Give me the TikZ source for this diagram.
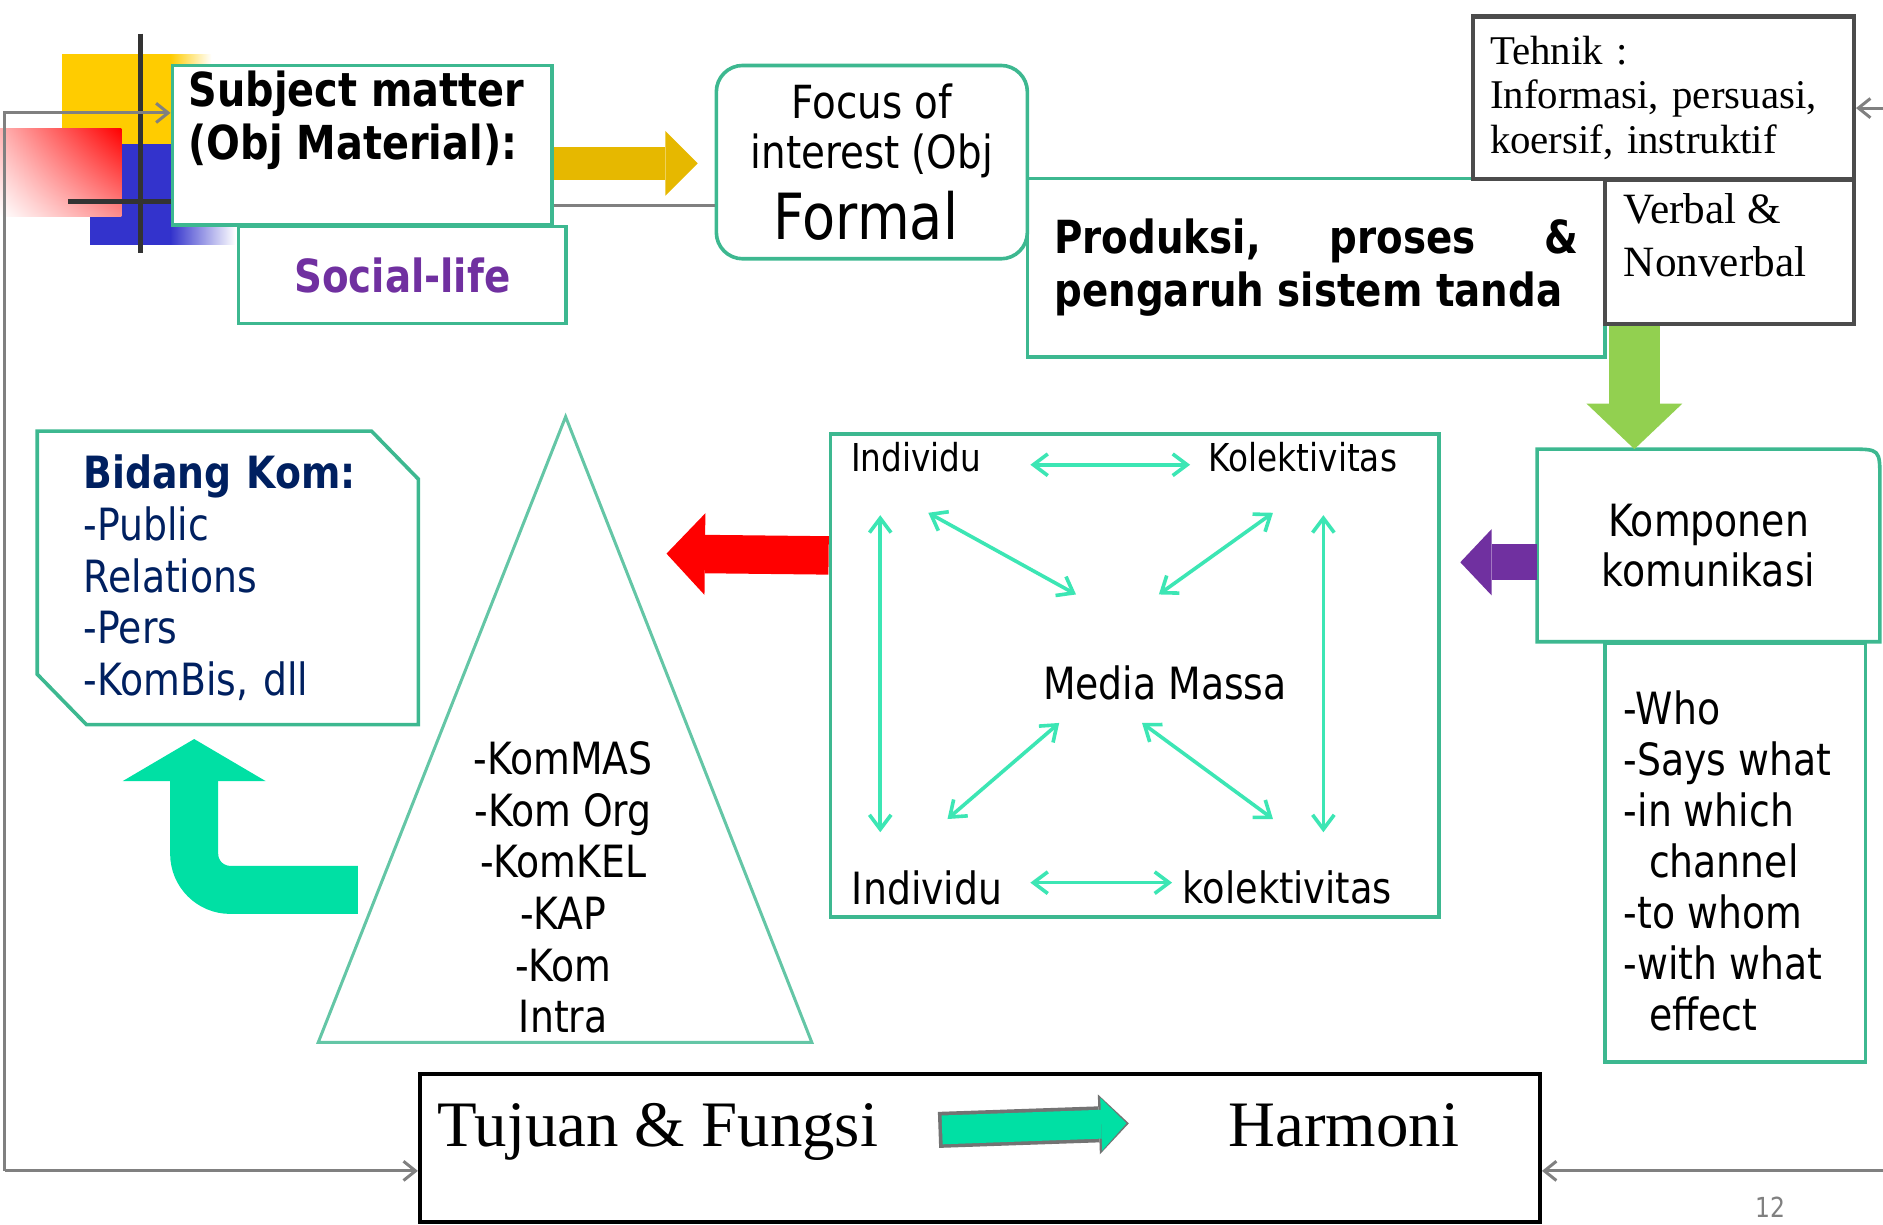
\documentclass[tikz,border=0pt]{standalone}
\usepackage{fontspec}
\setmainfont{Liberation Serif}
\setsansfont{DejaVu Sans}[FakeStretch=0.85]
\usetikzlibrary{arrows.meta,calc,shadings}
\definecolor{boxteal}{HTML}{3DB890}
\definecolor{arrgold}{HTML}{E6B800}
\definecolor{arrgreen}{HTML}{92D050}
\definecolor{arrpurple}{HTML}{7030A0}
\definecolor{aqua}{HTML}{00E0A4}
\definecolor{medarr}{HTML}{3CE6B4}
\definecolor{navy}{HTML}{002060}
\definecolor{txtpurple}{HTML}{7030A0}
\definecolor{logoyellow}{HTML}{FFCC00}
\definecolor{logoblue}{HTML}{3333CC}
\newcommand\fsz[2]{\fontsize{#1}{#2}\selectfont}
\tikzset{tbox/.style={draw=boxteal,line width=3pt,fill=white,anchor=north west,inner sep=0pt},
  gbox/.style={draw=black!70,line width=3.5pt,fill=white,anchor=north west,inner sep=0pt},
  fat/.style args={#1/#2/#3/#4}{draw=#1,line width=#2pt,-{Triangle[width=#3pt,length=#4pt,line width=0pt]}},
  fb/.style={draw=black!50,line width=2.5pt,-{Straight Barb[length=10pt,width=16pt]}},
  mlink/.style={draw=medarr,line width=3pt,{Straight Barb[length=12pt,width=18pt]}-{Straight Barb[length=12pt,width=18pt]}},
  lbl/.style={inner sep=0pt,font=\sffamily\fsz{37}{43}}}

\begin{document}
\begin{tikzpicture}[x=1pt,y=-1pt]
    \useasboundingbox (0,0) rectangle (1568,1020);

    % logo
    \fill[logoyellow] (52,45) rectangle (142,120);
    \shade[left color=logoyellow,right color=white] (142,45) rectangle (176,53);
    \fill[logoblue] (75,120) rectangle (142,204);
    \shade[left color=logoblue,right color=white] (142,186) rectangle (196,204);
    \shade[upper left=red!30,upper right=red,lower left=white,lower right=red!45] (0,107) rectangle (101,180);
    \draw[black!80,line width=4pt] (117,28) -- (117,211);
    \draw[black!80,line width=4pt] (57,168) -- (142,168);

    \coordinate (fbtop) at (4,94);
    \coordinate (fbbot) at (4,975);
    \coordinate (fbright) at (1570,975);
    \coordinate (fbtek) at (1570,90);

    % top row
    \node[tbox,minimum width=273pt,minimum height=81pt,font=\sffamily\bfseries\fsz{38}{44},text=txtpurple] (social) at (197,187) {Social-life};
    \node[tbox,minimum width=316pt,minimum height=133pt] (subj) at (142,53) {};
    \node[anchor=west,inner sep=0pt,align=left,font=\sffamily\bfseries\fsz{39}{44}] (subjT) at (157,100) {Subject matter\\(Obj Material):};
    \node[tbox,minimum width=481pt,minimum height=149pt,text width=436pt,align=justify,font=\sffamily\bfseries\fsz{38}{44}] (prod) at (854,147) {Produksi,\hfill proses\hfill\&\\pengaruh sistem tanda};
    \node[tbox,rounded corners=22pt,minimum width=259pt,minimum height=161pt,align=center,font=\sffamily\fsz{38}{42}] (focus) at (595,53) {Focus of\\interest (Obj\\[10pt]{\fsz{53}{53}Formal\hspace*{10pt}}};
    \coordinate (gl) at ($(subj.south east)+(0,-18)$);
    \draw[black!50,line width=3pt] (gl) -- (gl -| focus.west);
    \draw[fat=arrgold/27/54/27] ($(subj.east)+(0,15)$) -- ($(focus.west)+(-14,1)$);
    \node[gbox,minimum width=317pt,minimum height=135pt,text width=289pt,inner xsep=14pt,align=left,font=\rmfamily\fsz{34}{37}] (tek) at (1225,12) {Tehnik :\\Informasi, persuasi,\\koersif, instruktif};
    \node[gbox,minimum width=207pt,minimum height=120pt] (verbal) at (1335,148) {};
    \node[anchor=west,inner sep=0pt,align=left,font=\rmfamily\fsz{36}{44}] (verbalT) at (1352,196) {Verbal \&\\Nonverbal};

    % right column
    \node[tbox,minimum width=217pt,minimum height=349pt] (who) at (1335,534) {};
    \node[anchor=west,inner sep=0pt,align=left,font=\sffamily\fsz{37}{42.5}] (whoT) at (1352,717) {-Who\\-Says what\\-in which\\\hspace*{21pt}channel\\-to whom\\-with what\\\hspace*{21pt}effect};
    \node[anchor=north west,fill=white,minimum width=285pt,minimum height=160pt,inner sep=0pt,align=center,font=\sffamily\fsz{37}{42}] (komp) at (1280,374) {Komponen\\komunikasi};
    \draw[boxteal,line width=3pt] (komp.south west) -- (komp.north west) -- ($(komp.north east)+(-25,0)$) .. controls (komp.north east) .. ($(komp.north east)+(0,25)$) -- (komp.south east) -- cycle;
    \coordinate (gs) at ($(verbal.south west)+(26,0)$);
    \draw[fat=arrgreen/43/80/38] (gs) -- (gs |- komp.north);

    % media massa
    \node[tbox,minimum width=507pt,minimum height=402pt] (media) at (690,360) {};
    \node[lbl,font=\sffamily\fsz{32}{36}] (indTL) at (763,381) {Individu};
    \node[lbl,font=\sffamily\fsz{32}{36}] (kolTR) at (1085,381) {Kolektivitas};
    \node[lbl] (mm) at (970,569) {Media Massa};
    \node[lbl] (indBL) at (772,739) {Individu};
    \node[lbl,font=\sffamily\fsz{36}{40}] (kolBR) at (1072,739) {kolektivitas};
    \draw[mlink] ($(indTL)+(95,6)$) -- ($(kolTR)+(-94,6)$);
    \draw[mlink] ($(indBL)+(86,-4)$) -- ($(kolBR)+(-96,-4)$);
    \draw[mlink] ($(indTL)+(-30,48)$) -- ($(indBL)+(-39,-46)$);
    \draw[mlink] ($(kolTR)+(17,48)$) -- ($(kolBR)+(30,-46)$);
    \draw[mlink] ($(indTL)+(10,46)$) -- ($(mm)+(-74,-74)$);
    \draw[mlink] ($(kolTR)+(-25,46)$) -- ($(mm)+(-5,-74)$);
    \draw[mlink] ($(mm)+(-88,33)$) -- ($(indBL)+(17,-57)$);
    \draw[mlink] ($(mm)+(-19,33)$) -- ($(kolBR)+(-12,-57)$);
    \coordinate (ps) at ($(komp.west)+(0,14)$);
    \draw[fat=arrpurple/30/55/26,shorten >=16pt] (ps) -- (ps -| media.east);

    % triangle
    \coordinate (apex) at (471,347);
    \coordinate (tbl) at (265,868);
    \coordinate (tbr) at (676,868);
    \draw[boxteal!80,line width=2.5pt] (apex) -- (tbl) -- (tbr) -- cycle;
    \node[lbl,align=center] (kinds) at (469,739) {-KomMAS\\-Kom Org\\-KomKEL\\-KAP\\-Kom\\Intra};
    \coordinate (redtip) at (555,461);
    \draw[fat=red/32/68/32] ($(media.west)+(0,-100)$) -- (redtip);

    % bidang
    \node[anchor=north west,minimum width=317pt,minimum height=244pt,inner sep=0pt,text width=240pt,align=left,text=navy,font=\sffamily\fsz{37}{43}] (bidang) at (31,359) {{\bfseries Bidang Kom:}\\-Public\\Relations\\-Pers\\-KomBis, dll};
    \draw[boxteal,line width=3pt] (bidang.north west) -- ($(bidang.north east)+(-39,0)$) -- ($(bidang.north east)+(0,40)$) -- (bidang.south east) -- ($(bidang.south west)+(41,0)$) -- ($(bidang.south west)+(0,-42)$) -- cycle;
    \coordinate (bentstart) at (298,741);
    \draw[fat=aqua/40/119/35,rounded corners=30pt] (bentstart) -| ($(bidang.south)+(-28,12)$);

    % tujuan
    \node[draw=black,line width=3pt,fill=white,anchor=north west,minimum width=933pt,minimum height=123pt] (goal) at (348,893) {};
    \node[anchor=base west,inner sep=0pt,font=\rmfamily\fsz{54}{60}] (tjn) at (364,955) {Tujuan \& Fungsi};
    \node[anchor=base west,inner sep=0pt,font=\rmfamily\fsz{54}{60}] (harm) at (1023,955) {Harmoni};
    \draw[fat=black!55/30/50/25] ($(tjn.east)+(50,-2)$) -- ($(harm.west)+(-83,-2)$);
    \draw[fat=aqua/24/44/21] ($(tjn.east)+(53,-2)$) -- ($(harm.west)+(-85,-2)$);
    \node[font=\sffamily\fsz{23}{23},text=black!50] (pgno) at (1474,1005) {12};

    % feedback lines
    \draw[fb] (fbbot) -- (fbtop) -- (fbtop -| subj.west);
    \draw[fb] (fbbot) -- (fbbot -| goal.west);
    \draw[fb] (fbright) -- (fbright -| goal.east);
    \draw[fb] (fbtek) -- (fbtek -| tek.east);
\end{tikzpicture}
\end{document}
